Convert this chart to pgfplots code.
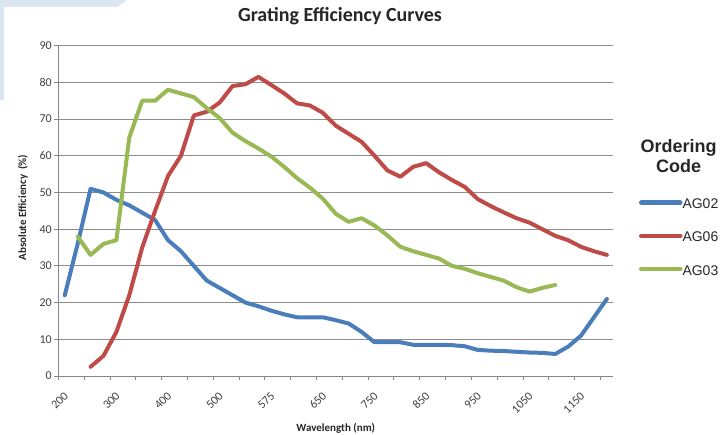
\documentclass[border=0pt]{standalone}
\usepackage{fontspec}
\setmainfont{Carlito}
\newfontfamily\arial{Liberation Sans}
\usepackage{pgfplots}
\pgfplotsset{compat=1.18}
\definecolor{cBlue}{HTML}{4A7EBB}
\definecolor{cRed}{HTML}{BE4B48}
\definecolor{cGreen}{HTML}{98B954}
\definecolor{cGrid}{HTML}{8C8C8C}
\definecolor{cAxis}{HTML}{868686}
\definecolor{cTxt}{HTML}{404040}
\definecolor{cDeco}{HTML}{DCE6F2}
\begin{document}
\begin{tikzpicture}[x=1pt,y=1pt]
\path[use as bounding box] (0,0) rectangle (725,435);
\fill[cDeco] (0,435) -- (127,435) -- (117,428) -- (4,428) -- (4,335) -- (0,335) -- cycle;
\begin{axis}[
  at={(58.3pt,59pt)}, anchor=south west,
  scale only axis, width=555pt, height=330.3pt,
  xmin=-0.5, xmax=42.5, ymin=0, ymax=90,
  axis lines*=left,
  axis line style={draw=cAxis, line width=0.8pt},
  xtick={0,4,...,40},
  xticklabels={200,300,400,500,575,650,750,850,950,1050,1150},
  minor xtick={-0.5,1.5,...,41.5},
  ytick={0,10,...,90},
  minor ytick={0,10,...,90},
  major tick length=0pt, minor tick length=4pt,
  tick align=outside,
  tick style={draw=cAxis, line width=0.8pt},
  ymajorgrids,
  major grid style={draw=cGrid, line width=0.9pt},
  /pgf/number format/assume math mode=true,
  tick label style={font=\fontsize{12}{14}\selectfont, text=cTxt},
  yticklabel style={xshift=-3pt},
  xticklabel style={xshift=1.5pt, yshift=-18pt, rotate=45, anchor=east, inner sep=0pt},
  title={Grating Efficiency Curves},
  title style={at={(axis description cs:0.5076,1.0566)}, anchor=base, font=\bfseries\fontsize{20}{24}\selectfont, text=black!85},
  xlabel={Wavelength (nm)},
  ylabel={Absolute Efficiency\ \ (\%)},
  every axis x label/.style={at={(axis description cs:0.5,-0.1695)}, anchor=base, font=\bfseries\fontsize{11}{13}\selectfont, text=black!85},
  every axis y label/.style={at={(axis description cs:-0.0582,0.51)}, rotate=90, anchor=base, font=\bfseries\fontsize{11}{13}\selectfont, text=black!85},
  legend style={at={(axis description cs:1.0463,0.552)}, anchor=north west, draw=none, fill=none, inner sep=0pt, outer sep=0pt, row sep=18.2pt, column sep=0pt, font=\arial\fontsize{14}{16}\selectfont, text=black!85, nodes={inner sep=0pt, text height=10pt, text depth=0pt}},
  legend cell align=left,
  legend image code/.code={\path[draw=none, fill=none] (0pt,0pt) rectangle (43pt,10pt); \draw[#1, line width=4.5pt, line cap=round] (2pt,1pt) -- (41pt,1pt);},
  every axis plot/.append style={line width=4pt, line join=round, line cap=round, mark=none},
]
\addplot[cBlue] coordinates {
(0,22) (1,36) (2,51) (3,50) (4,48) (5,46.5) (6,44.5) (7,42.5) (8,37) (9,34)
(10,30) (11,26) (12,24) (13,22) (14,20) (15,19) (16,17.8) (17,16.8) (18,16) (19,16)
(20,16) (21,15.2) (22,14.3) (23,12) (24,9.2) (25,9.2) (26,9.2) (27,8.5) (28,8.5) (29,8.5)
(30,8.4) (31,8.1) (32,7.1) (33,6.9) (34,6.8) (35,6.6) (36,6.4) (37,6.3) (38,6.0) (39,8.0)
(40,11) (41,16) (42,21)};
\addlegendentry{AG02}
\addplot[cRed] coordinates {
(2,2.5) (3,5.5) (4,12) (5,22) (6,35) (7,45) (8,54.5) (9,60)
(10,71) (11,72) (12,74.5) (13,79) (14,79.5) (15,81.5) (16,79.3) (17,77) (18,74.3) (19,73.7)
(20,71.7) (21,68.2) (22,66) (23,63.8) (24,60) (25,56) (26,54.3) (27,57) (28,58) (29,55.5)
(30,53.4) (31,51.5) (32,48.2) (33,46.3) (34,44.6) (35,43) (36,41.8) (37,40) (38,38.2) (39,37)
(40,35.2) (41,34) (42,33)};
\addlegendentry{AG06}
\addplot[cGreen] coordinates {
(1,38) (2,33) (3,36) (4,37) (5,65) (6,75) (7,75) (8,78) (9,77)
(10,76) (11,73) (12,70.3) (13,66.3) (14,64) (15,62) (16,59.8) (17,57) (18,53.9) (19,51.3)
(20,48.3) (21,44.2) (22,42) (23,43) (24,41) (25,38.3) (26,35.2) (27,34) (28,33) (29,32)
(30,30) (31,29.2) (32,28) (33,27) (34,26) (35,24.2) (36,23) (37,24) (38,24.8)};
\addlegendentry{AG03}
\end{axis}
\node[anchor=base, font=\arial\bfseries\fontsize{18}{21}\selectfont, text=black!85] at (678.5,282.7) {Ordering};
\node[anchor=base, font=\arial\bfseries\fontsize{18}{21}\selectfont, text=black!85] at (678.5,262) {Code};
\end{tikzpicture}
\end{document}
